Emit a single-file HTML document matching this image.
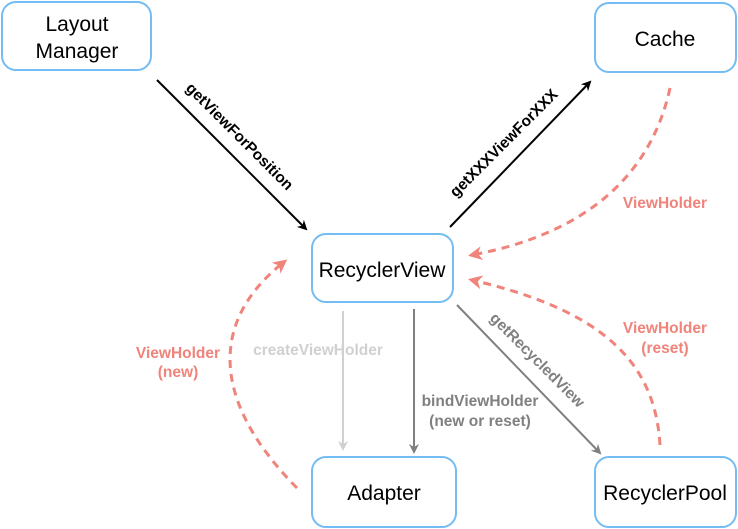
<!DOCTYPE html>
<html><head><meta charset="utf-8"><style>
html,body{margin:0;padding:0;background:#fff;}
svg{display:block;font-family:"Liberation Sans",sans-serif;}
</style></head><body>
<svg width="738" height="529" viewBox="0 0 738 529" xmlns="http://www.w3.org/2000/svg">
<defs>
<marker id="ab" markerWidth="10" markerHeight="10" refX="8" refY="5" orient="auto" markerUnits="userSpaceOnUse"><path d="M0,0 L10,5 L0,10 L3,5 Z" fill="#000"/></marker>
<marker id="ag" markerWidth="10" markerHeight="10" refX="8" refY="5" orient="auto" markerUnits="userSpaceOnUse"><path d="M0,0 L10,5 L0,10 L3,5 Z" fill="#808080"/></marker>
<marker id="al" markerWidth="10" markerHeight="10" refX="8" refY="5" orient="auto" markerUnits="userSpaceOnUse"><path d="M0,0 L10,5 L0,10 L3,5 Z" fill="#d0d0d0"/></marker>
<marker id="ar" markerWidth="14" markerHeight="14" refX="10" refY="7" orient="auto" markerUnits="userSpaceOnUse"><path d="M0,0 L14,7 L0,14 L4,7 Z" fill="#f0837a"/></marker>
</defs>
<g fill="#fff" stroke="#74bdf2" stroke-width="2">
<rect x="2" y="2" width="149" height="68" rx="14"/>
<rect x="595" y="3" width="141" height="69" rx="14"/>
<rect x="312" y="234" width="141" height="68" rx="14"/>
<rect x="312" y="457" width="144" height="70" rx="14"/>
<rect x="595" y="457" width="141" height="70" rx="14"/>
</g>
<g font-size="21" text-anchor="middle" fill="#000">
<text x="77" y="31">Layout</text>
<text x="77" y="58">Manager</text>
<text x="665" y="46">Cache</text>
<text x="382" y="277">RecyclerView</text>
<text x="384" y="500">Adapter</text>
<text x="665" y="500">RecyclerPool</text>
</g>
<line x1="157" y1="80" x2="306" y2="229" stroke="#000" stroke-width="2" marker-end="url(#ab)"/>
<line x1="450" y1="227" x2="590" y2="82" stroke="#000" stroke-width="2" marker-end="url(#ab)"/>
<line x1="343" y1="311" x2="343" y2="449" stroke="#d0d0d0" stroke-width="2" marker-end="url(#al)"/>
<line x1="414" y1="309" x2="414" y2="452" stroke="#808080" stroke-width="2" marker-end="url(#ag)"/>
<line x1="457" y1="305" x2="600" y2="453" stroke="#808080" stroke-width="2" marker-end="url(#ag)"/>
<g fill="none" stroke="#f0837a" stroke-width="3" stroke-dasharray="8,6">
<path d="M670,88 C650,180 580,235 472,255" marker-end="url(#ar)"/>
<path d="M660,445 C655,360 600,310 472,280" marker-end="url(#ar)"/>
<path d="M297,488 C210,400 210,320 284,262" marker-end="url(#ar)"/>
</g>
<g font-size="15.5" font-weight="bold">
<text transform="translate(185,89) rotate(45)" fill="#000">getViewForPosition</text>
<text transform="translate(456,198) rotate(-45)" fill="#000">getXXXViewForXXX</text>
<text transform="translate(489,319) rotate(45)" fill="#808080">getRecycledView</text>
<text x="665" y="208" fill="#f0837a" text-anchor="middle">ViewHolder</text>
<text x="665" y="333" fill="#f0837a" text-anchor="middle">ViewHolder</text>
<text x="665" y="353" fill="#f0837a" text-anchor="middle">(reset)</text>
<text x="178" y="358" fill="#f0837a" text-anchor="middle">ViewHolder</text>
<text x="178" y="377" fill="#f0837a" text-anchor="middle">(new)</text>
<text x="318" y="355" fill="#d0d0d0" text-anchor="middle">createViewHolder</text>
<text x="480" y="406" fill="#808080" text-anchor="middle">bindViewHolder</text>
<text x="480" y="426" fill="#808080" text-anchor="middle">(new or reset)</text>
</g>
</svg>
</body></html>
